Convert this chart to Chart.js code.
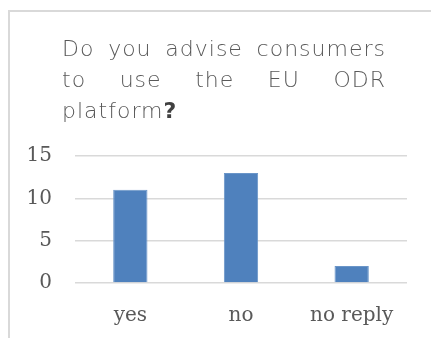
<!DOCTYPE html>
<html>
<head>
<meta charset="utf-8">
<script src="https://cdn.jsdelivr.net/npm/chart.js@4"></script>
<style>
  html, body { margin: 0; padding: 0; background: #fff; }
  body { width: 431px; height: 338px; position: relative; overflow: hidden; }
  /* card frame: only top and left edges are visible */
  .frame {
    position: absolute; left: 8px; top: 10px; width: 440px; height: 340px;
    border-top: 2px solid #d9d9d9; border-left: 2px solid #d9d9d9;
    box-sizing: border-box;
  }
  #wrap { position: absolute; left: 0; top: 0; width: 431px; height: 338px; }
</style>
</head>
<body>
<div class="frame"></div>
<div id="wrap"><canvas id="chart" width="431" height="338"></canvas></div>
<script>
// ── Data ──────────────────────────────────────────────────────
const categories = ['yes', 'no', 'no reply'];
const answers    = [11, 13, 2];
const yTicks     = [0, 5, 10, 15];
const titleLines = ['Do you advise consumers', 'to use the EU ODR', 'platform'];

const TITLE_FONT = '200 22px "DejaVu Sans", sans-serif';

// ── Title: justified lines, last line left aligned ────────────
const titlePlugin = {
  id: 'justifiedTitle',
  afterDraw(chart) {
    const ctx = chart.ctx;
    const left = 62, right = 386;
    const baselines = [56, 87, 118];
    ctx.save();
    ctx.font = TITLE_FONT;
    ctx.letterSpacing = '1px';
    ctx.fillStyle = '#595959';
    ctx.textBaseline = 'alphabetic';
    ctx.textAlign = 'left';
    titleLines.forEach((line, i) => {
      const words = line.split(' ');
      const y = baselines[i];
      if (i === titleLines.length - 1) {
        ctx.fillText(line, left, y);
        const w = ctx.measureText(line).width;
        ctx.font = 'bold 22px "DejaVu Sans", sans-serif';
        ctx.fillStyle = '#404040';
        ctx.fillText('?', left + w, y);
        return;
      }
      const widths = words.map(w => ctx.measureText(w).width);
      const total = widths.reduce((a, b) => a + b, 0);
      const gap = (right - left - total) / (words.length - 1);
      let x = left;
      words.forEach((w, j) => {
        ctx.fillText(w, x, y);
        x += widths[j] + gap;
      });
    });
    ctx.restore();
  }
};

const tickFont = { family: '"DejaVu Serif", serif', size: 20 };

new Chart(document.getElementById('chart'), {
  type: 'bar',
  data: {
    labels: categories,
    datasets: [{
      data: answers,
      backgroundColor: '#4f81bd',
      borderColor: '#6a95c8',
      borderWidth: 1,
      barPercentage: 0.31,
      categoryPercentage: 1,
    }],
  },
  options: {
    responsive: false,
    animation: false,
    layout: { padding: { top: 156, right: 24, left: 0, bottom: 0 } },
    plugins: { legend: { display: false }, tooltip: { enabled: false } },
    scales: {
      x: {
        grid: { display: false },
        border: { display: false },
        ticks: { color: '#595959', font: tickFont, padding: 13 },
        afterFit: s => { s.height = 55; },
      },
      y: {
        min: 0,
        max: 15,
        afterBuildTicks: s => { s.ticks = yTicks.map(v => ({ value: v })); },
        grid: { color: '#d9d9d9', lineWidth: 1.5, drawTicks: false },
        border: { display: false },
        ticks: { color: '#595959', font: tickFont, padding: 23 },
        afterFit: s => { s.width = 75; },
      },
    },
  },
  plugins: [titlePlugin],
});
</script>
</body>
</html>
